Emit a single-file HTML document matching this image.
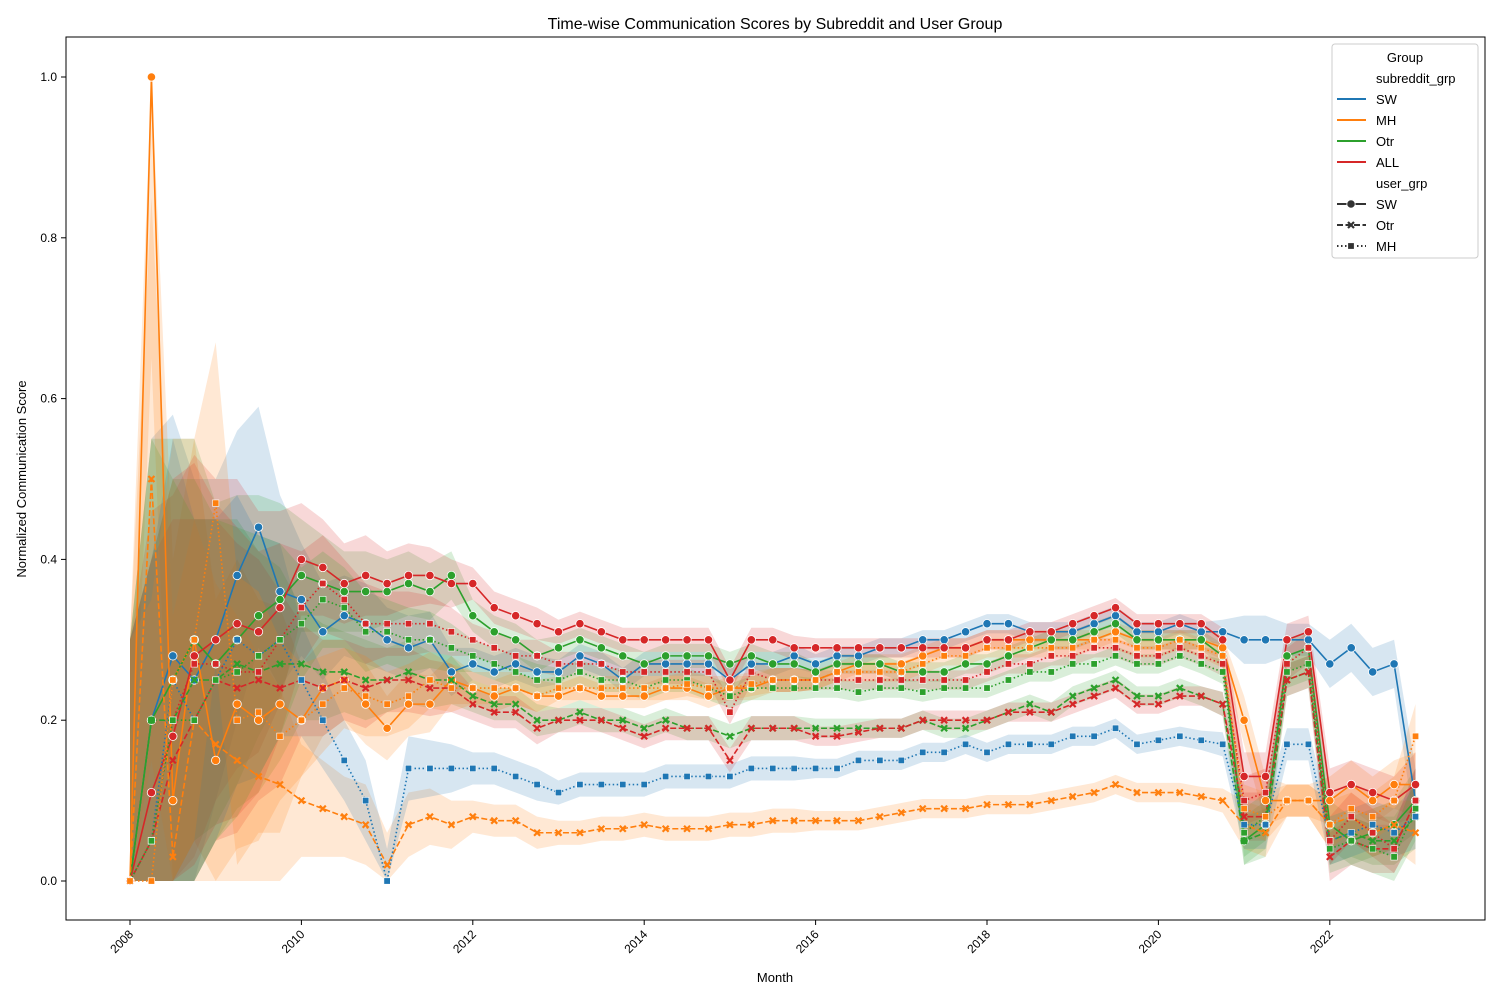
<!DOCTYPE html>
<html><head><meta charset="utf-8">
<style>
body{margin:0;background:#fff;font-family:"Liberation Sans","DejaVu Sans",sans-serif;}
svg text{font-family:"Liberation Sans","DejaVu Sans",sans-serif;}
</style></head>
<body>
<svg id="chart" width="1500" height="1000" xmlns="http://www.w3.org/2000/svg">
<rect width="1500" height="1000" fill="#fff"/>
<text x="775" y="29" text-anchor="middle" font-size="16">Time-wise Communication Scores by Subreddit and User Group</text>
<g id="bands"></g><g id="lines"></g><g id="marks"></g>
<rect x="66" y="37" width="1419" height="883" fill="none" stroke="#000" stroke-width="1"/>
<g id="axes"></g>
<text x="775" y="982" text-anchor="middle" font-size="13">Month</text>
<text transform="translate(26,479) rotate(-90)" text-anchor="middle" font-size="13">Normalized Communication Score</text>
<g id="legend"></g>
</svg>
<script>
const startYear = 2008;
const stepYears = 0.25;
const ciHalf = [0.3,0.35,0.3,0.25, 0.2,0.18,0.15,0.12, 0.07,0.06,0.05,0.05, 0.04,0.04,0.035,0.03,
 0.02,0.02,0.02,0.02, 0.015,0.015,0.015,0.015, 0.015,0.015,0.015,0.015, 0.015,0.015,0.015,0.015,
 0.012,0.012,0.012,0.012, 0.012,0.012,0.012,0.012, 0.012,0.012,0.012,0.012, 0.012,0.012,0.012,0.012,
 0.012,0.012,0.012,0.015, 0.03,0.03,0.02,0.02, 0.03,0.03,0.03,0.03, 0.04];
const SW_SW=[0,0.2,0.28,0.25, 0.3,0.38,0.44,0.36, 0.35,0.31,0.33,0.32, 0.3,0.29,0.3,0.26, 0.27,0.26,0.27,0.26, 0.26,0.28,0.27,0.25, 0.27,0.27,0.27,0.27, 0.25,0.27,0.27,0.28, 0.27,0.28,0.28,0.29, 0.29,0.3,0.3,0.31, 0.32,0.32,0.31,0.31, 0.31,0.32,0.33,0.31, 0.31,0.32,0.31,0.31, 0.3,0.3,0.3,0.3, 0.27,0.29,0.26,0.27, 0.1];
const MH_SW=[0,1.0,0.1,0.3, 0.15,0.22,0.2,0.22, 0.2,0.24,0.25,0.22, 0.19,0.22,0.22,0.25, 0.24,0.23,0.24,0.23, 0.23,0.24,0.23,0.23, 0.23,0.24,0.24,0.23, 0.24,0.24,0.25,0.25, 0.25,0.26,0.27,0.27, 0.27,0.28,0.29,0.29, 0.3,0.3,0.3,0.3, 0.3,0.3,0.31,0.3, 0.3,0.3,0.3,0.29, 0.2,0.1,0.1,0.1, 0.1,0.12,0.1,0.12, 0.12];
const OTR_SW=[0,0.2,0.25,0.3, 0.27,0.3,0.33,0.35, 0.38,0.37,0.36,0.36, 0.36,0.37,0.36,0.38, 0.33,0.31,0.3,0.28, 0.29,0.3,0.29,0.28, 0.27,0.28,0.28,0.28, 0.27,0.28,0.27,0.27, 0.26,0.27,0.27,0.27, 0.26,0.26,0.26,0.27, 0.27,0.28,0.29,0.3, 0.3,0.31,0.32,0.3, 0.3,0.3,0.3,0.28, 0.05,0.07,0.28,0.29, 0.07,0.05,0.06,0.07, 0.1];
const ALL_SW=[0,0.11,0.18,0.28, 0.3,0.32,0.31,0.34, 0.4,0.39,0.37,0.38, 0.37,0.38,0.38,0.37, 0.37,0.34,0.33,0.32, 0.31,0.32,0.31,0.3, 0.3,0.3,0.3,0.3, 0.25,0.3,0.3,0.29, 0.29,0.29,0.29,0.29, 0.29,0.29,0.29,0.29, 0.3,0.3,0.31,0.31, 0.32,0.33,0.34,0.32, 0.32,0.32,0.32,0.3, 0.13,0.13,0.3,0.31, 0.11,0.12,0.11,0.1, 0.12];
const OTR_OTR=[0,0.2,0.2,0.25, 0.25,0.27,0.26,0.27, 0.27,0.26,0.26,0.25, 0.25,0.26,0.25,0.25, 0.23,0.22,0.22,0.2, 0.2,0.21,0.2,0.2, 0.19,0.2,0.19,0.19, 0.18,0.19,0.19,0.19, 0.19,0.19,0.19,0.19, 0.19,0.2,0.19,0.19, 0.2,0.21,0.22,0.21, 0.23,0.24,0.25,0.23, 0.23,0.24,0.23,0.22, 0.05,0.06,0.25,0.26, 0.05,0.06,0.05,0.05, 0.08];
const ALL_OTR=[0,0.05,0.15,0.2, 0.25,0.24,0.25,0.24, 0.25,0.24,0.25,0.24, 0.25,0.25,0.24,0.24, 0.22,0.21,0.21,0.19, 0.2,0.2,0.2,0.19, 0.18,0.19,0.19,0.19, 0.15,0.19,0.19,0.19, 0.18,0.18,0.185,0.19, 0.19,0.2,0.2,0.2, 0.2,0.21,0.21,0.21, 0.22,0.23,0.24,0.22, 0.22,0.23,0.23,0.22, 0.08,0.08,0.25,0.26, 0.03,0.05,0.04,0.04, 0.1];
const SW_MH=[0,0.05,0.25,0.2, 0.25,0.3,0.28,0.3, 0.25,0.2,0.15,0.1, 0.0,0.14,0.14,0.14, 0.14,0.14,0.13,0.12, 0.11,0.12,0.12,0.12, 0.12,0.13,0.13,0.13, 0.13,0.14,0.14,0.14, 0.14,0.14,0.15,0.15, 0.15,0.16,0.16,0.17, 0.16,0.17,0.17,0.17, 0.18,0.18,0.19,0.17, 0.175,0.18,0.175,0.17, 0.07,0.07,0.17,0.17, 0.05,0.06,0.07,0.06, 0.08];
const MH_OTR=[0,0.5,0.03,0.2, 0.17,0.15,0.13,0.12, 0.1,0.09,0.08,0.07, 0.02,0.07,0.08,0.07, 0.08,0.075,0.075,0.06, 0.06,0.06,0.065,0.065, 0.07,0.065,0.065,0.065, 0.07,0.07,0.075,0.075, 0.075,0.075,0.075,0.08, 0.085,0.09,0.09,0.09, 0.095,0.095,0.095,0.1, 0.105,0.11,0.12,0.11, 0.11,0.11,0.105,0.1, 0.07,0.06,0.1,0.1, 0.07,0.08,0.06,0.07, 0.06];
const ALL_MH=[0,0.05,0.2,0.27, 0.27,0.26,0.26,0.3, 0.34,0.37,0.35,0.32, 0.32,0.32,0.32,0.31, 0.3,0.29,0.28,0.28, 0.27,0.27,0.27,0.26, 0.26,0.26,0.26,0.26, 0.21,0.26,0.25,0.25, 0.25,0.25,0.25,0.25, 0.25,0.25,0.25,0.25, 0.26,0.27,0.27,0.28, 0.28,0.29,0.29,0.28, 0.28,0.29,0.28,0.27, 0.1,0.11,0.27,0.29, 0.05,0.08,0.06,0.04, 0.1];
const OTR_MH=[0,0.05,0.2,0.2, 0.25,0.26,0.28,0.3, 0.32,0.35,0.34,0.31, 0.31,0.3,0.3,0.29, 0.28,0.27,0.26,0.25, 0.25,0.26,0.25,0.25, 0.24,0.25,0.25,0.24, 0.23,0.24,0.24,0.24, 0.24,0.24,0.235,0.24, 0.24,0.235,0.24,0.24, 0.24,0.25,0.26,0.26, 0.27,0.27,0.28,0.27, 0.27,0.28,0.27,0.26, 0.06,0.08,0.26,0.27, 0.04,0.05,0.04,0.03, 0.09];
const MH_MH=[0,0.0,0.25,0.3, 0.47,0.2,0.21,0.18, 0.2,0.22,0.24,0.23, 0.22,0.23,0.25,0.24, 0.24,0.24,0.24,0.23, 0.24,0.24,0.24,0.24, 0.24,0.24,0.245,0.24, 0.24,0.245,0.25,0.25, 0.25,0.26,0.26,0.26, 0.26,0.27,0.28,0.28, 0.29,0.29,0.29,0.29, 0.29,0.3,0.3,0.29, 0.29,0.3,0.29,0.28, 0.09,0.08,0.1,0.1, 0.07,0.09,0.08,0.1, 0.18];
const xTicks=[2008,2010,2012,2014,2016,2018,2020,2022];
const yTicks=[0.0,0.2,0.4,0.6,0.8,1.0];

const C={SW:'#1f77b4',MH:'#ff7f0e',Otr:'#2ca02c',ALL:'#d62728'};
const series=[
 {id:'sw-sw',v:SW_SW,c:C.SW,u:'SW'},{id:'mh-sw',v:MH_SW,c:C.MH,u:'SW'},{id:'otr-sw',v:OTR_SW,c:C.Otr,u:'SW'},{id:'all-sw',v:ALL_SW,c:C.ALL,u:'SW'},
 {id:'otr-otr',v:OTR_OTR,c:C.Otr,u:'Otr'},{id:'all-otr',v:ALL_OTR,c:C.ALL,u:'Otr'},{id:'mh-otr',v:MH_OTR,c:C.MH,u:'Otr'},
 {id:'sw-mh',v:SW_MH,c:C.SW,u:'MH'},{id:'all-mh',v:ALL_MH,c:C.ALL,u:'MH'},{id:'otr-mh',v:OTR_MH,c:C.Otr,u:'MH'},{id:'mh-mh',v:MH_MH,c:C.MH,u:'MH'}];
const X=t=>130+(t-2008)*85.7;
const Y=v=>881-v*804;
const NS='http://www.w3.org/2000/svg';
function mk(tag,attrs,parent){const e=document.createElementNS(NS,tag);for(const k in attrs)e.setAttribute(k,attrs[k]);parent.appendChild(e);return e;}
const dash={SW:'none',Otr:'6,2.5',MH:'1.5,2.5'};
const bands=document.getElementById('bands'),lines=document.getElementById('lines'),marks=document.getElementById('marks'),axes=document.getElementById('axes');
function marker(u,x,y,c,parent){
 let m;
 if(u==='SW'){m=mk('circle',{cx:x,cy:y,r:4.2,fill:c,stroke:'#fff','stroke-width':0.8},parent);}
 else if(u==='Otr'){m=mk('path',{d:`M${x-3},${y-3}L${x+3},${y+3}M${x-3},${y+3}L${x+3},${y-3}`,stroke:c,'stroke-width':2.2,fill:'none'},parent);}
 else {m=mk('rect',{x:x-3.2,y:y-3.2,width:6.4,height:6.4,fill:c,stroke:'#fff','stroke-width':0.6},parent);}
 return m;
}
series.forEach(s=>{
 const pts=s.v.map((v,i)=>[X(startYear+i*stepYears),v]);
 let up=pts.map((p,i)=>p[0]+','+Y(Math.min(1,p[1]+ciHalf[i]))).join(' ');
 let dn=pts.slice().reverse().map((p,j)=>{const i=pts.length-1-j;return p[0]+','+Y(Math.max(0,p[1]-ciHalf[i]));}).join(' ');
 const b=mk('polygon',{points:up+' '+dn,fill:s.c,'fill-opacity':0.18,stroke:'none'},bands);
 
 
 const l=mk('polyline',{points:pts.map(p=>p[0]+','+Y(p[1])).join(' '),fill:'none',stroke:s.c,'stroke-width':1.6,'stroke-dasharray':dash[s.u]},lines);
 
 
 pts.forEach(p=>{
  const m=marker(s.u,p[0],Y(p[1]),s.c,marks);
  
  
 });
});
xTicks.forEach(t=>{
 const x=X(t);
 const tk=mk('line',{x1:x,y1:920,x2:x,y2:925,stroke:'#000'},axes);
 
 
 const tx=mk('text',{x:x+4,y:935,'font-size':12,'text-anchor':'end',transform:`rotate(-45 ${x+4} 935)`},axes);
 tx.textContent=t;
 
 
});
yTicks.forEach(v=>{
 const y=Y(v);
 const tk=mk('line',{x1:61,y1:y,x2:66,y2:y,stroke:'#000'},axes);
 
 
 const tx=mk('text',{x:57,y:y+4,'font-size':12,'text-anchor':'end'},axes);
 tx.textContent=v.toFixed(1);
 
 
});
// legend
const lg=document.getElementById('legend');
mk('rect',{x:1332,y:44,width:146,height:214,rx:3,fill:'#fff','fill-opacity':0.85,stroke:'#ccc'},lg);
const entries=[['Group',null,null,true],['subreddit_grp',null,null],['SW',C.SW,null],['MH',C.MH,null],['Otr',C.Otr,null],['ALL',C.ALL,null],['user_grp',null,null],['SW','#333','SW'],['Otr','#333','Otr'],['MH','#333','MH']];
entries.forEach((e,i)=>{
 const y=57+i*21;
 const g=mk('g',{},lg);
 
 
 if(e[3]){const t=mk('text',{x:1405,y:y+5,'font-size':13,'text-anchor':'middle'},g);t.textContent=e[0];return;}
 if(e[1]){
  mk('line',{x1:1337,y1:y,x2:1366,y2:y,stroke:e[1],'stroke-width':2,'stroke-dasharray':e[2]?dash[e[2]]:'none'},g);
  if(e[2])marker(e[2],1351,y,e[1],g);
 }
 const t=mk('text',{x:1376,y:y+5,'font-size':13},g);t.textContent=e[0];
});
</script>
</body></html>
